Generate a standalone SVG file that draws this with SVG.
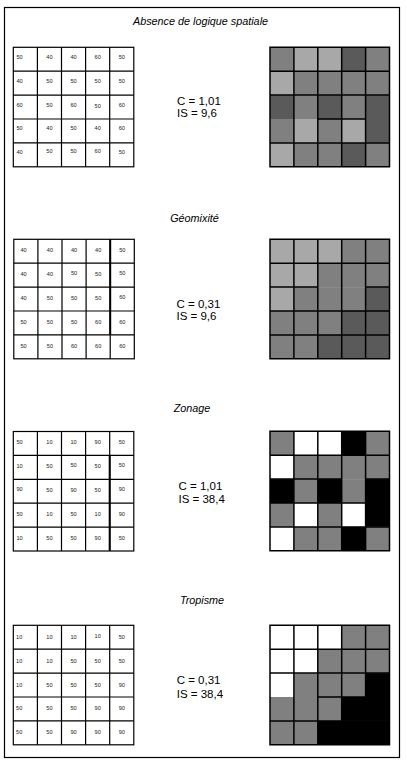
<svg xmlns="http://www.w3.org/2000/svg" width="407" height="766" viewBox="0 0 407 766">
<style>
.frame{fill:none;stroke:#000;stroke-width:1.2}
.title{font-family:"Liberation Sans",Arial,sans-serif;font-style:italic;font-size:10.8px;fill:#000;text-anchor:middle}
.stat{font-family:"Liberation Sans",Arial,sans-serif;font-size:11.5px;fill:#000}
.num{font-family:"Liberation Sans",Arial,sans-serif;font-size:5.6px;fill:#222;text-anchor:middle}
.gl{fill:#fff;stroke:#000;stroke-width:1.2}
.lines{fill:none;stroke:#000;stroke-width:1.2}
.rlines{fill:none;stroke:#000;stroke-width:1.5}
.l{fill:#a8a8a8}.m{fill:#808080}.d{fill:#5a5a5a}.w{fill:#fff}.k{fill:#000}
</style>
<defs>
<path id="lgrid" d="M24.1 0V119.5M48.2 0V119.5M72.3 0V119.5M96.4 0V119.5M0 23.9H120.5M0 47.8H120.5M0 71.7H120.5M0 95.6H120.5"/>
<path id="rvert" d="M23.9 0V119.5M47.8 0V119.5M71.7 0V119.5M95.6 0V119.5M0 23.9H119.5M0 95.6H119.5"/>
</defs>
<rect class="frame" x="4.5" y="7.5" width="395" height="750"/>

<g id="panel1">
<text class="title" x="200.5" y="25">Absence de logique spatiale</text>
<g id="p1-table" transform="translate(13.3,47.3)">
<rect class="gl" x="0" y="0" width="120.5" height="119.5"/>
<use href="#lgrid" class="lines"/>
<g class="num">
<text x="6.2" y="11.5">50</text><text x="36.15" y="11.5">40</text><text x="60.25" y="11.5">40</text><text x="84.35" y="11.5">60</text><text x="108.45" y="11.5">50</text>
<text x="6.2" y="35.4">40</text><text x="36.15" y="35.4">50</text><text x="60.25" y="35.4">50</text><text x="84.35" y="35.4">50</text><text x="108.45" y="35.4">50</text>
<text x="6.2" y="59.3">60</text><text x="36.15" y="59.3">50</text><text x="60.25" y="59.3">60</text><text x="84.35" y="60.3">50</text><text x="108.45" y="59.3">60</text>
<text x="6.2" y="83.2">50</text><text x="36.15" y="83.2">40</text><text x="60.25" y="83.2">50</text><text x="84.35" y="83.2">40</text><text x="108.45" y="83.2">60</text>
<text x="6.2" y="107.1">40</text><text x="36.15" y="106.1">50</text><text x="60.25" y="106.1">50</text><text x="84.35" y="106.1">60</text><text x="108.45" y="107.1">50</text>
</g>
</g>
<g id="p1-stats">
<text class="stat" x="177" y="105">C = 1,01</text>
<text class="stat" x="177" y="116.5">IS = 9,6</text>
</g>
<g id="p1-map" transform="translate(270,47.3)">
<rect class="m" x="0" y="0" width="23.9" height="23.9"/><rect class="l" x="23.9" y="0" width="23.9" height="23.9"/><rect class="l" x="47.8" y="0" width="23.9" height="23.9"/><rect class="d" x="71.7" y="0" width="23.9" height="23.9"/><rect class="m" x="95.6" y="0" width="23.9" height="23.9"/>
<rect class="l" x="0" y="23.9" width="23.9" height="23.9"/><rect class="m" x="23.9" y="23.9" width="23.9" height="23.9"/><rect class="m" x="47.8" y="23.9" width="23.9" height="23.9"/><rect class="m" x="71.7" y="23.9" width="23.9" height="23.9"/><rect class="m" x="95.6" y="23.9" width="23.9" height="23.9"/>
<rect class="d" x="0" y="47.8" width="23.9" height="23.9"/><rect class="m" x="23.9" y="47.8" width="23.9" height="23.9"/><rect class="d" x="47.8" y="47.8" width="23.9" height="23.9"/><rect class="m" x="71.7" y="47.8" width="23.9" height="23.9"/><rect class="d" x="95.6" y="47.8" width="23.9" height="23.9"/>
<rect class="m" x="0" y="71.7" width="23.9" height="23.9"/><rect class="l" x="23.9" y="71.7" width="23.9" height="23.9"/><rect class="m" x="47.8" y="71.7" width="23.9" height="23.9"/><rect class="l" x="71.7" y="71.7" width="23.9" height="23.9"/><rect class="d" x="95.6" y="71.7" width="23.9" height="23.9"/>
<rect class="l" x="0" y="95.6" width="23.9" height="23.9"/><rect class="m" x="23.9" y="95.6" width="23.9" height="23.9"/><rect class="m" x="47.8" y="95.6" width="23.9" height="23.9"/><rect class="d" x="71.7" y="95.6" width="23.9" height="23.9"/><rect class="m" x="95.6" y="95.6" width="23.9" height="23.9"/>
<path class="rlines" d="M0 0H119.5V119.5H0Z M0 47.8H119.5 M47.8 71.7H95.6"/>
<use href="#rvert" class="rlines"/>
</g>
</g>

<g id="panel2">
<text class="title" x="194.5" y="222">Géomixité</text>
<g id="p2-table" transform="translate(13.8,239.3)">
<rect class="gl" x="0" y="0" width="120.5" height="119.5"/>
<use href="#lgrid" class="lines"/>
<path d="M96.4 0V95.6" stroke="#000" stroke-width="2" fill="none"/>
<g class="num">
<text x="9.7" y="13">40</text><text x="36.15" y="13">40</text><text x="60.25" y="13">40</text><text x="84.35" y="13">40</text><text x="108.45" y="13">50</text>
<text x="9.7" y="36.9">40</text><text x="36.15" y="36.9">40</text><text x="60.25" y="35.9">50</text><text x="84.35" y="36.9">50</text><text x="108.45" y="35.9">50</text>
<text x="9.7" y="60.8">40</text><text x="36.15" y="60.8">50</text><text x="60.25" y="60.8">50</text><text x="84.35" y="60.8">50</text><text x="108.45" y="59.8">60</text>
<text x="9.7" y="84.7">50</text><text x="36.15" y="84.7">50</text><text x="60.25" y="84.7">50</text><text x="84.35" y="84.7">60</text><text x="108.45" y="84.7">60</text>
<text x="9.7" y="108.6">50</text><text x="36.15" y="108.6">50</text><text x="60.25" y="108.6">60</text><text x="84.35" y="108.6">60</text><text x="108.45" y="108.6">60</text>
</g>
</g>
<g id="p2-stats">
<text class="stat" x="176.5" y="308.3">C = 0,31</text>
<text class="stat" x="176.5" y="320.3">IS = 9,6</text>
</g>
<g id="p2-map" transform="translate(270,239.3)">
<rect class="l" x="0" y="0" width="23.9" height="23.9"/><rect class="l" x="23.9" y="0" width="23.9" height="23.9"/><rect class="l" x="47.8" y="0" width="23.9" height="23.9"/><rect class="m" x="71.7" y="0" width="23.9" height="23.9"/><rect class="m" x="95.6" y="0" width="23.9" height="23.9"/>
<rect class="l" x="0" y="23.9" width="23.9" height="23.9"/><rect class="l" x="23.9" y="23.9" width="23.9" height="23.9"/><rect class="m" x="47.8" y="23.9" width="23.9" height="23.9"/><rect class="m" x="71.7" y="23.9" width="23.9" height="23.9"/><rect class="m" x="95.6" y="23.9" width="23.9" height="23.9"/>
<rect class="l" x="0" y="47.8" width="23.9" height="23.9"/><rect class="m" x="23.9" y="47.8" width="23.9" height="23.9"/><rect class="m" x="47.8" y="47.8" width="23.9" height="23.9"/><rect class="m" x="71.7" y="47.8" width="23.9" height="23.9"/><rect class="d" x="95.6" y="47.8" width="23.9" height="23.9"/>
<rect class="m" x="0" y="71.7" width="23.9" height="23.9"/><rect class="m" x="23.9" y="71.7" width="23.9" height="23.9"/><rect class="m" x="47.8" y="71.7" width="23.9" height="23.9"/><rect class="d" x="71.7" y="71.7" width="23.9" height="23.9"/><rect class="d" x="95.6" y="71.7" width="23.9" height="23.9"/>
<rect class="m" x="0" y="95.6" width="23.9" height="23.9"/><rect class="m" x="23.9" y="95.6" width="23.9" height="23.9"/><rect class="d" x="47.8" y="95.6" width="23.9" height="23.9"/><rect class="d" x="71.7" y="95.6" width="23.9" height="23.9"/><rect class="d" x="95.6" y="95.6" width="23.9" height="23.9"/>
<path class="rlines" d="M0 0H119.5V119.5H0Z M0 47.8H47.8 M95.6 47.8H119.5 M0 71.7H119.5"/>
<use href="#rvert" class="rlines"/>
</g>
</g>

<g id="panel3">
<text class="title" x="192" y="412.3">Zonage</text>
<g id="p3-table" transform="translate(13.3,431.5)">
<rect class="gl" x="0" y="0" width="120.5" height="119.5"/>
<use href="#lgrid" class="lines"/>
<path d="M96.4 23.9V119.5" stroke="#000" stroke-width="2" fill="none"/>
<g class="num">
<text x="6.2" y="12.8">50</text><text x="36.15" y="12.8">10</text><text x="60.25" y="12.8">10</text><text x="84.35" y="12.8">90</text><text x="108.45" y="12.8">50</text>
<text x="6.2" y="36.7">10</text><text x="36.15" y="36.7">50</text><text x="60.25" y="35.7">50</text><text x="84.35" y="36.7">50</text><text x="108.45" y="35.7">50</text>
<text x="6.2" y="59.6">90</text><text x="36.15" y="60.6">50</text><text x="60.25" y="60.6">90</text><text x="84.35" y="60.6">50</text><text x="108.45" y="59.6">90</text>
<text x="6.2" y="84.5">50</text><text x="36.15" y="84.5">10</text><text x="60.25" y="84.5">50</text><text x="84.35" y="84.5">10</text><text x="108.45" y="84.5">90</text>
<text x="6.2" y="108.4">10</text><text x="36.15" y="108.4">50</text><text x="60.25" y="108.4">50</text><text x="84.35" y="108.4">90</text><text x="108.45" y="108.4">50</text>
</g>
</g>
<g id="p3-stats">
<text class="stat" x="178.5" y="490">C = 1,01</text>
<text class="stat" x="178.5" y="503">IS = 38,4</text>
</g>
<g id="p3-map" transform="translate(270,431.3)">
<rect class="m" x="0" y="0" width="23.9" height="23.9"/><rect class="w" x="23.9" y="0" width="23.9" height="23.9"/><rect class="w" x="47.8" y="0" width="23.9" height="23.9"/><rect class="k" x="71.7" y="0" width="23.9" height="23.9"/><rect class="m" x="95.6" y="0" width="23.9" height="23.9"/>
<rect class="w" x="0" y="23.9" width="23.9" height="23.9"/><rect class="m" x="23.9" y="23.9" width="23.9" height="23.9"/><rect class="m" x="47.8" y="23.9" width="23.9" height="23.9"/><rect class="m" x="71.7" y="23.9" width="23.9" height="23.9"/><rect class="m" x="95.6" y="23.9" width="23.9" height="23.9"/>
<rect class="k" x="0" y="47.8" width="23.9" height="23.9"/><rect class="m" x="23.9" y="47.8" width="23.9" height="23.9"/><rect class="k" x="47.8" y="47.8" width="23.9" height="23.9"/><rect class="m" x="71.7" y="47.8" width="23.9" height="23.9"/><rect class="k" x="95.6" y="47.8" width="23.9" height="23.9"/>
<rect class="m" x="0" y="71.7" width="23.9" height="23.9"/><rect class="w" x="23.9" y="71.7" width="23.9" height="23.9"/><rect class="m" x="47.8" y="71.7" width="23.9" height="23.9"/><rect class="w" x="71.7" y="71.7" width="23.9" height="23.9"/><rect class="k" x="95.6" y="71.7" width="23.9" height="23.9"/>
<rect class="w" x="0" y="95.6" width="23.9" height="23.9"/><rect class="m" x="23.9" y="95.6" width="23.9" height="23.9"/><rect class="m" x="47.8" y="95.6" width="23.9" height="23.9"/><rect class="k" x="71.7" y="95.6" width="23.9" height="23.9"/><rect class="m" x="95.6" y="95.6" width="23.9" height="23.9"/>
<path class="rlines" d="M0 0H119.5V119.5H0Z M0 47.8H71.7 M95.6 47.8H119.5 M0 71.7H95.6"/>
<use href="#rvert" class="rlines"/>
</g>
</g>

<g id="panel4">
<text class="title" x="202" y="603.7">Tropisme</text>
<g id="p4-table" transform="translate(13.3,625.3)">
<rect class="gl" x="0" y="0" width="120.5" height="119.5"/>
<use href="#lgrid" class="lines"/>
<g class="num">
<text x="5.9" y="13.5">10</text><text x="36.15" y="13.5">10</text><text x="60.25" y="13.5">10</text><text x="84.35" y="12.5">10</text><text x="108.45" y="13.5">50</text>
<text x="5.9" y="37.4">10</text><text x="36.15" y="37.4">10</text><text x="60.25" y="37.4">50</text><text x="84.35" y="37.4">50</text><text x="108.45" y="37.4">50</text>
<text x="5.9" y="61.3">10</text><text x="36.15" y="61.3">50</text><text x="60.25" y="61.3">50</text><text x="84.35" y="61.3">50</text><text x="108.45" y="61.3">90</text>
<text x="5.9" y="85.2">50</text><text x="36.15" y="85.2">50</text><text x="60.25" y="85.2">50</text><text x="84.35" y="85.2">90</text><text x="108.45" y="85.2">90</text>
<text x="5.9" y="109.1">50</text><text x="36.15" y="109.1">50</text><text x="60.25" y="109.1">90</text><text x="84.35" y="109.1">90</text><text x="108.45" y="109.1">90</text>
</g>
</g>
<g id="p4-stats">
<text class="stat" x="176.7" y="684.3">C = 0,31</text>
<text class="stat" x="176.7" y="697.5">IS = 38,4</text>
</g>
<g id="p4-map" transform="translate(270,625.3)">
<rect class="w" x="0" y="0" width="23.9" height="23.9"/><rect class="w" x="23.9" y="0" width="23.9" height="23.9"/><rect class="w" x="47.8" y="0" width="23.9" height="23.9"/><rect class="m" x="71.7" y="0" width="23.9" height="23.9"/><rect class="m" x="95.6" y="0" width="23.9" height="23.9"/>
<rect class="w" x="0" y="23.9" width="23.9" height="23.9"/><rect class="w" x="23.9" y="23.9" width="23.9" height="23.9"/><rect class="m" x="47.8" y="23.9" width="23.9" height="23.9"/><rect class="m" x="71.7" y="23.9" width="23.9" height="23.9"/><rect class="m" x="95.6" y="23.9" width="23.9" height="23.9"/>
<rect class="w" x="0" y="47.8" width="23.9" height="23.9"/><rect class="m" x="23.9" y="47.8" width="23.9" height="23.9"/><rect class="m" x="47.8" y="47.8" width="23.9" height="23.9"/><rect class="m" x="71.7" y="47.8" width="23.9" height="23.9"/><rect class="k" x="95.6" y="47.8" width="23.9" height="23.9"/>
<rect class="m" x="0" y="71.7" width="23.9" height="23.9"/><rect class="m" x="23.9" y="71.7" width="23.9" height="23.9"/><rect class="m" x="47.8" y="71.7" width="23.9" height="23.9"/><rect class="k" x="71.7" y="71.7" width="23.9" height="23.9"/><rect class="k" x="95.6" y="71.7" width="23.9" height="23.9"/>
<rect class="m" x="0" y="95.6" width="23.9" height="23.9"/><rect class="m" x="23.9" y="95.6" width="23.9" height="23.9"/><rect class="k" x="47.8" y="95.6" width="23.9" height="23.9"/><rect class="k" x="71.7" y="95.6" width="23.9" height="23.9"/><rect class="k" x="95.6" y="95.6" width="23.9" height="23.9"/>
<path class="rlines" d="M0 0H119.5V119.5H0Z M0 47.8H119.5 M47.8 71.7H119.5"/>
<use href="#rvert" class="rlines"/>
</g>
</g>
</svg>
